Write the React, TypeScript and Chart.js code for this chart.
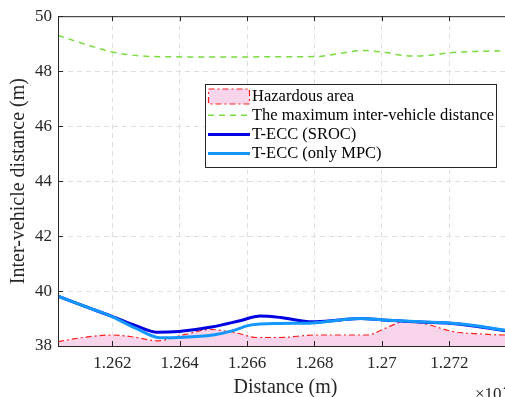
import { useEffect, useRef } from 'react';
import { Chart, registerables } from 'chart.js';

Chart.register(...registerables);

// ---- axes ----
const xTicks = [1.262, 1.264, 1.266, 1.268, 1.27, 1.272];
const yTicks = [38, 40, 42, 44, 46, 48, 50];
const xMin = 1.26039;
const xMax = 1.27389;
const yMin = 38;
const yMax = 50;
const xTitle = 'Distance (m)';
const yTitle = 'Inter-vehicle distance (m)';
const xExponent = '×10';
const xExponentPow = '4';

// ---- series (x in units of 10^4 m) ----
const hazardX = [1.26039, 1.26119, 1.26199, 1.26268, 1.26333, 1.26416, 1.2649, 1.26565, 1.2663, 1.26698, 1.268, 1.26877, 1.26957, 1.27011, 1.27064, 1.27123, 1.27213, 1.27293, 1.27367, 1.27389];
const hazardY = [38.16, 38.32, 38.4, 38.32, 38.19, 38.42, 38.6, 38.48, 38.31, 38.31, 38.4, 38.4, 38.4, 38.65, 38.88, 38.82, 38.52, 38.44, 38.4, 38.4];

const maxDistX = [1.26039, 1.26119, 1.26199, 1.26291, 1.26401, 1.26609, 1.26802, 1.26877, 1.26945, 1.27011, 1.27085, 1.27144, 1.27201, 1.27278, 1.27367, 1.27389];
const maxDistY = [49.3, 48.98, 48.7, 48.55, 48.52, 48.52, 48.53, 48.65, 48.75, 48.68, 48.55, 48.58, 48.67, 48.72, 48.74, 48.75];

const srocX = [1.26039, 1.26119, 1.26199, 1.26268, 1.26333, 1.26398, 1.26499, 1.26579, 1.26639, 1.26698, 1.26794, 1.26877, 1.26936, 1.27002, 1.27114, 1.27201, 1.27278, 1.27367, 1.27389];
const srocY = [39.81, 39.44, 39.08, 38.75, 38.5, 38.53, 38.7, 38.92, 39.09, 39.04, 38.88, 38.95, 39.0, 38.95, 38.87, 38.83, 38.72, 38.55, 38.5];

const mpcX = [1.26039, 1.26119, 1.26199, 1.26274, 1.26342, 1.26398, 1.26499, 1.26556, 1.26609, 1.26698, 1.26794, 1.26877, 1.26936, 1.27002, 1.27114, 1.27201, 1.27278, 1.27367, 1.27389];
const mpcY = [39.81, 39.44, 39.07, 38.62, 38.3, 38.31, 38.4, 38.55, 38.76, 38.82, 38.84, 38.95, 39.0, 38.95, 38.88, 38.84, 38.74, 38.57, 38.52];

const seriesLabels = ['Hazardous area', 'The maximum inter-vehicle distance', 'T-ECC (SROC)', 'T-ECC (only MPC)'];

const FONT = 'Liberation Serif';
const AXIS_COLOR = '#262626';

const toPoints = (xs: number[], ys: number[]) => xs.map((x, i) => ({ x, y: ys[i] }));

const overlayPlugin = {
  id: 'matlabOverlay',
  afterDatasetsDraw(chart: any) {
    const { ctx, chartArea } = chart;
    const { left, right, top, bottom } = chartArea;
    const xs = chart.scales.x;
    const ys = chart.scales.y;
    ctx.save();
    // axes box
    ctx.strokeStyle = AXIS_COLOR;
    ctx.lineWidth = 1;
    ctx.setLineDash([]);
    ctx.beginPath();
    ctx.moveTo(left, bottom + 0.5);
    ctx.lineTo(right, bottom + 0.5);
    ctx.moveTo(left, top + 0.5);
    ctx.lineTo(right, top + 0.5);
    ctx.moveTo(left + 0.5, top);
    ctx.lineTo(left + 0.5, bottom + 1);
    ctx.moveTo(right - 0.5, top);
    ctx.lineTo(right - 0.5, bottom + 1);
    // inward ticks
    const tl = 5;
    xTicks.forEach((v) => {
      const px = Math.round(xs.getPixelForValue(v)) + 0.5;
      ctx.moveTo(px, bottom);
      ctx.lineTo(px, bottom - tl);
      ctx.moveTo(px, top);
      ctx.lineTo(px, top + tl);
    });
    yTicks.forEach((v) => {
      const py = Math.round(ys.getPixelForValue(v)) + 0.5;
      ctx.moveTo(left, py);
      ctx.lineTo(left + tl, py);
      ctx.moveTo(right, py);
      ctx.lineTo(right - tl, py);
    });
    ctx.stroke();

    // exponent label
    ctx.fillStyle = AXIS_COLOR;
    ctx.font = `17px "${FONT}"`;
    ctx.textBaseline = 'alphabetic';
    ctx.textAlign = 'left';
    ctx.fillText(xExponent, 475, 399);
    const w = ctx.measureText(xExponent).width;
    ctx.font = `12px "${FONT}"`;
    ctx.fillText(xExponentPow, 475 + w + 2, 391);

    // legend
    const bx = 205.5, by = 84.5, bw = 291, bh = 83;
    ctx.fillStyle = '#ffffff';
    ctx.fillRect(bx, by, bw, bh);
    ctx.strokeStyle = AXIS_COLOR;
    ctx.lineWidth = 1;
    ctx.strokeRect(bx, by, bw, bh);
    const rowY = [96, 115.3, 134.5, 153.6];
    const sx0 = 208, sx1 = 250;
    chart.data.datasets.forEach((ds: any) => {
      const idx = seriesLabels.indexOf(ds.label);
      if (idx < 0) return;
      const y = rowY[idx];
      ctx.save();
      if (ds.fill) {
        ctx.fillStyle = ds.backgroundColor;
        ctx.fillRect(sx0 + 0.5, y - 7, sx1 - sx0 - 1, 15);
        ctx.strokeStyle = ds.borderColor;
        ctx.lineWidth = 1.2;
        ctx.setLineDash(ds.borderDash || []);
        ctx.strokeRect(sx0 + 0.5, y - 7, sx1 - sx0 - 1, 15);
      } else {
        ctx.strokeStyle = ds.borderColor;
        ctx.lineWidth = ds.borderWidth;
        ctx.setLineDash(ds.borderDash || []);
        ctx.beginPath();
        ctx.moveTo(sx0, y);
        ctx.lineTo(sx1, y);
        ctx.stroke();
      }
      ctx.restore();
      ctx.fillStyle = '#000000';
      ctx.font = `16.5px "${FONT}"`;
      ctx.textBaseline = 'middle';
      ctx.textAlign = 'left';
      ctx.fillText(ds.label, 252, y + 0.5);
    });
    ctx.restore();
  },
};

export default function App() {
  const canvasRef = useRef<HTMLCanvasElement | null>(null);

  useEffect(() => {
    if (!canvasRef.current) return;
    const chart = new Chart(canvasRef.current, {
      type: 'line',
      data: {
        datasets: [
          {
            label: seriesLabels[3],
            data: toPoints(mpcX, mpcY),
            borderColor: 'rgb(20,150,255)',
            borderWidth: 3,
            pointRadius: 0,
            cubicInterpolationMode: 'monotone',
            fill: false,
            order: 0,
          },
          {
            label: seriesLabels[2],
            data: toPoints(srocX, srocY),
            borderColor: 'rgb(0,0,225)',
            borderWidth: 3,
            pointRadius: 0,
            cubicInterpolationMode: 'monotone',
            fill: false,
            order: 1,
          },
          {
            label: seriesLabels[1],
            data: toPoints(maxDistX, maxDistY),
            borderColor: 'rgb(120,220,60)',
            borderWidth: 1.5,
            borderDash: [6, 5],
            pointRadius: 0,
            cubicInterpolationMode: 'monotone',
            fill: false,
            order: 2,
          },
          {
            label: seriesLabels[0],
            data: toPoints(hazardX, hazardY),
            borderColor: 'rgb(255,30,30)',
            backgroundColor: 'rgb(249,213,236)',
            borderWidth: 1.2,
            borderDash: [6, 3, 2, 3],
            pointRadius: 0,
            cubicInterpolationMode: 'monotone',
            fill: 'start',
            order: 3,
          },
        ] as any,
      },
      plugins: [overlayPlugin],
      options: {
        animation: false,
        responsive: true,
        maintainAspectRatio: false,
        layout: { padding: { top: 13, right: 0, left: 0, bottom: 0 } },
        plugins: {
          legend: { display: false },
          tooltip: { enabled: false },
          title: { display: false },
        },
        scales: {
          x: {
            type: 'linear',
            min: xMin,
            max: xMax,
            afterBuildTicks: (scale: any) => {
              scale.ticks = xTicks.map((v) => ({ value: v }));
            },
            afterFit: (scale: any) => {
              scale.height = 51;
            },
            ticks: {
              autoSkip: false,
              maxRotation: 0,
              padding: 7,
              color: AXIS_COLOR,
              font: { family: FONT, size: 17 },
              callback: (v: any) => String(Number(Number(v).toFixed(3))),
            },
            grid: { color: '#dedede', lineWidth: 1, drawTicks: false },
            border: { display: true, color: AXIS_COLOR, width: 1, dash: [5, 4] },
            title: {
              display: true,
              text: xTitle,
              color: AXIS_COLOR,
              font: { family: FONT, size: 20, lineHeight: 1 },
              padding: { top: 0, bottom: -1 },
            },
          },
          y: {
            type: 'linear',
            min: yMin,
            max: yMax,
            afterBuildTicks: (scale: any) => {
              scale.ticks = yTicks.map((v) => ({ value: v }));
            },
            afterFit: (scale: any) => {
              scale.width = 58;
            },
            ticks: {
              padding: 6,
              color: AXIS_COLOR,
              font: { family: FONT, size: 17 },
              callback: (v: any) => String(v),
            },
            grid: { color: '#dedede', lineWidth: 1, drawTicks: false },
            border: { display: true, color: AXIS_COLOR, width: 1, dash: [5, 4] },
            title: {
              display: true,
              text: yTitle,
              color: AXIS_COLOR,
              font: { family: FONT, size: 20, lineHeight: 1 },
              padding: { top: 9, bottom: 0 },
            },
          },
        },
      } as any,
    });
    return () => chart.destroy();
  }, []);

  return (
    <div
      style={{
        position: 'fixed',
        left: 0,
        top: 0,
        width: 505,
        height: 397,
        overflow: 'hidden',
        background: '#ffffff',
      }}
    >
      <div style={{ position: 'relative', width: 513, height: 397 }}>
        <canvas ref={canvasRef} />
      </div>
    </div>
  );
}
